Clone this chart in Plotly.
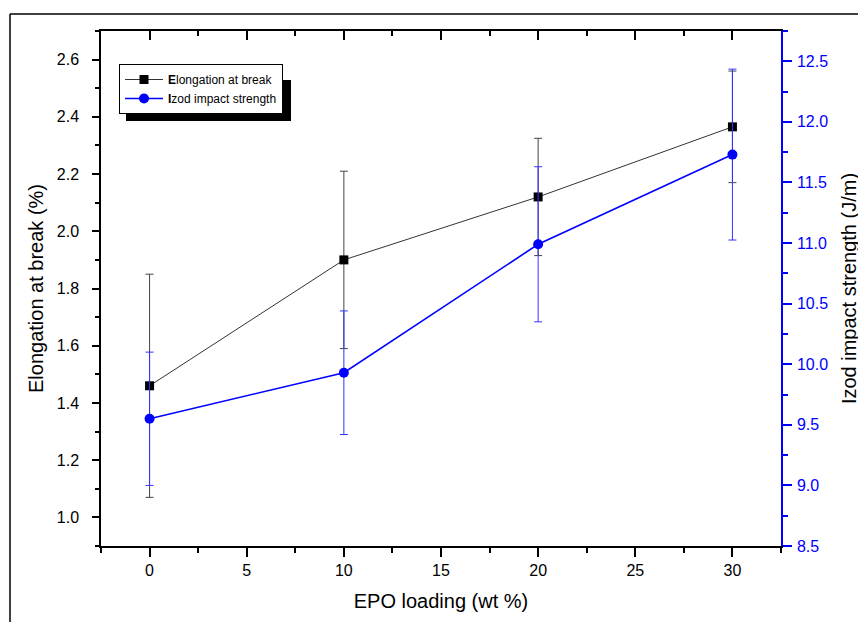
import plotly.graph_objects as go

# ---- data ----
epo_loading = [0, 10, 20, 30]
elongation = [1.46, 1.90, 2.12, 2.365]
elongation_err = [0.39, 0.31, 0.205, 0.195]
izod = [9.55, 9.93, 10.99, 11.73]
izod_err = [0.55, 0.51, 0.64, 0.705]

x_tickvals = [0, 5, 10, 15, 20, 25, 30]
y1_tickvals = [1.0, 1.2, 1.4, 1.6, 1.8, 2.0, 2.2, 2.4, 2.6]
y2_tickvals = [8.5, 9.0, 9.5, 10.0, 10.5, 11.0, 11.5, 12.0, 12.5]

FONT = "Liberation Sans, Arial, sans-serif"

# The page body has an 8px margin, so the figure is drawn at (8, 8).
OFF = 8
W, H = 866 - OFF, 622 - OFF
# plot area in page pixels: x 101..781, y 31..546
L, T = 101 - OFF, 31 - OFF
R, B = W - (781 - OFF), H - (546 - OFF)
PW, PH = W - L - R, H - T - B


def px_x(p):
    """page pixel x -> paper coordinate"""
    return (p - OFF - L) / PW


def px_y(p):
    """page pixel y -> paper coordinate"""
    return (H - B - (p - OFF)) / PH


fig = go.Figure()

fig.add_trace(go.Scatter(
    x=epo_loading, y=elongation, name="<b>E</b>longation at break",
    mode="lines+markers",
    line=dict(color="#333333", width=1),
    marker=dict(symbol="square", size=9, color="black"),
    error_y=dict(type="data", array=elongation_err, visible=True,
                 color="#444444", thickness=1, width=4),
    xaxis="x", yaxis="y",
))

fig.add_trace(go.Scatter(
    x=epo_loading, y=izod, name="<b>I</b>zod impact strength",
    mode="lines+markers",
    line=dict(color="#0000FF", width=1.6),
    marker=dict(symbol="circle", size=10, color="#0000FF"),
    error_y=dict(type="data", array=izod_err, visible=True,
                 color="#3333FF", thickness=1, width=4),
    xaxis="x", yaxis="y2",
))

# dummy trace so the mirrored top axis is drawn
fig.add_trace(go.Scatter(
    x=[x_tickvals[0], x_tickvals[-1]], y=[None, None], xaxis="x2", yaxis="y",
    showlegend=False, hoverinfo="skip", mode="lines",
))

xrange = [-2.5, 32.5]

fig.update_layout(
    width=W, height=H,
    margin=dict(l=L, r=R, t=T, b=B, pad=0, autoexpand=False),
    paper_bgcolor="white", plot_bgcolor="white",
    font=dict(family=FONT, color="black", size=16),
    showlegend=True,
    legend=dict(
        x=px_x(119), y=px_y(64), xanchor="left", yanchor="top",
        bgcolor="white", bordercolor="black", borderwidth=1,
        font=dict(family=FONT, size=12, color="black"),
        itemwidth=38, tracegroupgap=0,
    ),
    xaxis=dict(
        range=xrange, tickvals=x_tickvals, ticks="outside", ticklen=9,
        tickwidth=1.5, tickcolor="black", showline=True, linewidth=1.5,
        linecolor="black", showgrid=False, zeroline=False,
        tickfont=dict(size=16),
        minor=dict(dtick=2.5, tick0=0, ticks="outside", ticklen=5,
                   tickwidth=1.5, tickcolor="black", showgrid=False),
        title=dict(text="EPO loading (wt %)", font=dict(size=20), standoff=16),
    ),
    xaxis2=dict(
        range=xrange, tickvals=x_tickvals, overlaying="x", side="top",
        ticks="inside", ticklen=9, tickwidth=1.5, tickcolor="black",
        showline=True, linewidth=1.5, linecolor="black",
        showticklabels=False, showgrid=False, zeroline=False,
        minor=dict(dtick=2.5, tick0=0, ticks="inside", ticklen=5,
                   tickwidth=1.5, tickcolor="black", showgrid=False),
    ),
    yaxis=dict(
        range=[0.9, 2.7], tickvals=y1_tickvals, ticktext=[f"{v:.1f}" for v in y1_tickvals],
        ticks="outside", ticklen=7, tickwidth=1.5, tickcolor="black",
        showline=True, linewidth=1.5, linecolor="black",
        showgrid=False, zeroline=False, tickfont=dict(size=16),
        ticklabelstandoff=10,
        minor=dict(dtick=0.1, tick0=0.9, ticks="outside", ticklen=4,
                   tickwidth=1.5, tickcolor="black", showgrid=False),
        title=dict(text="Elongation at break (%)", font=dict(size=20), standoff=8),
    ),
    yaxis2=dict(
        range=[8.5, 12.75], tickvals=y2_tickvals, ticktext=[f"{v:.1f}" for v in y2_tickvals],
        overlaying="y", side="right",
        ticks="outside", ticklen=9, tickwidth=1.5, tickcolor="#0000FF",
        showline=True, linewidth=1.5, linecolor="#0000FF",
        showgrid=False, zeroline=False,
        tickfont=dict(size=16, color="#0000FF"),
        ticklabelstandoff=2,
        minor=dict(dtick=0.25, tick0=8.5, ticks="outside", ticklen=5,
                   tickwidth=1.5, tickcolor="#0000FF", showgrid=False),
        title=dict(text="Izod impact strength (J/m)", font=dict(size=20, color="black"),
                   standoff=15),
    ),
    shapes=[
        # legend drop shadow
        dict(type="rect", xref="paper", yref="paper",
             x0=px_x(126), x1=px_x(291), y0=px_y(121), y1=px_y(80),
             fillcolor="black", line=dict(width=0), layer="above"),
        # outer frame of the original figure
        dict(type="line", xref="paper", yref="paper",
             x0=px_x(10), x1=px_x(880), y0=px_y(14), y1=px_y(14),
             line=dict(color="black", width=1.5)),
        dict(type="line", xref="paper", yref="paper",
             x0=px_x(10), x1=px_x(10), y0=px_y(14), y1=px_y(640),
             line=dict(color="black", width=1.5)),
    ],
)

fig.write_html("out.html")
